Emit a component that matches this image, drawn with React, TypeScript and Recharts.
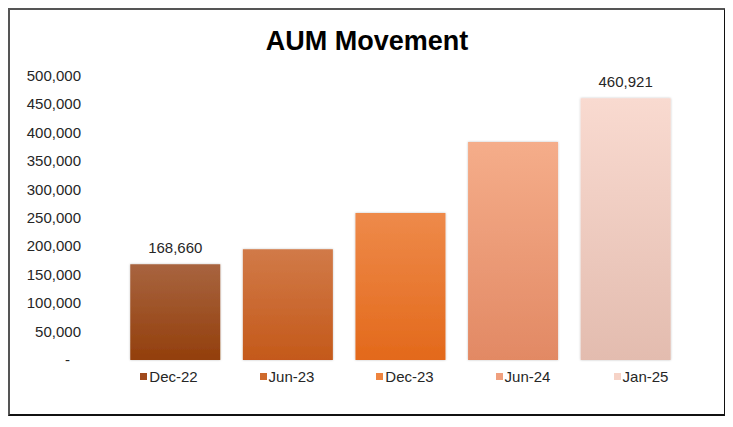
import React from "react";
import { BarChart, Bar, XAxis, YAxis, Cell, LabelList, Legend } from "recharts";

const categories = ["Dec-22", "Jun-23", "Dec-23", "Jun-24", "Jan-25"];
const aumValues = [168660, 195000, 259000, 384000, 460921];
const dataLabels = ["168,660", "", "", "", "460,921"];
const yTicks = [0, 50000, 100000, 150000, 200000, 250000, 300000, 350000, 400000, 450000, 500000];

// gradient top / bottom per bar, plus legend swatch colour
const barTop = ["#a8643f", "#d17a48", "#ee8a4a", "#f5ad8a", "#f9dad0"];
const barBottom = ["#933f0c", "#c4591a", "#e3691b", "#e28964", "#e3bcaf"];
const swatch = ["#a04a1c", "#cf6a2c", "#ef843e", "#f0a07e", "#f6d3c7"];

const data = categories.map((c, i) => ({ name: c, value: aumValues[i], label: dataLabels[i] }));

const font = "'Liberation Sans', Arial, sans-serif";

const YTick = (props: any) => {
  const { x, y, payload } = props;
  const v = payload.value as number;
  return (
    <text
      x={v === 0 ? x - 11 : x}
      y={y}
      dy={5}
      textAnchor="end"
      fontFamily={font}
      fontSize={15}
      fill="#262626"
    >
      {v === 0 ? "-" : v.toLocaleString("en-US")}
    </text>
  );
};

const LegendContent = () => (
  <div style={{ display: "flex", fontFamily: font, fontSize: 15, color: "#262626" }}>
    {categories.map((c, i) => (
      <div
        key={c}
        style={{ width: 118, display: "flex", justifyContent: "center", alignItems: "center" }}
      >
        <span
          style={{ width: 7, height: 7, background: swatch[i], marginRight: 2, display: "inline-block" }}
        />
        <span>{c}</span>
      </div>
    ))}
  </div>
);

export default function App() {
  return (
    <div
      style={{
        position: "relative",
        width: 714,
        height: 404,
        borderTop: "2px solid #555",
        borderLeft: "2px solid #555",
        borderRight: "2px solid #111",
        borderBottom: "2px solid #111",
        background: "#fff",
      }}
    >
      <div
        style={{
          position: "absolute",
          top: 16,
          left: 0,
          width: 714,
          textAlign: "center",
          fontFamily: font,
          fontWeight: "bold",
          fontSize: 27,
          color: "#000",
        }}
      >
        AUM Movement
      </div>
      <BarChart
        width={714}
        height={404}
        data={data}
        margin={{ top: 66, right: 42, bottom: 54, left: 0 }}
        barCategoryGap="10%"
      >
        <defs>
          {categories.map((c, i) => (
            <linearGradient key={c} id={`grad${i}`} x1="0" y1="0" x2="0" y2="1">
              <stop offset="0%" stopColor={barTop[i]} />
              <stop offset="100%" stopColor={barBottom[i]} />
            </linearGradient>
          ))}
          <filter id="shadow" x="-10%" y="-10%" width="120%" height="120%">
            <feDropShadow dx="0" dy="0" stdDeviation="1.2" floodColor="#000" floodOpacity="0.25" />
          </filter>
        </defs>
        <XAxis dataKey="name" hide />
        <YAxis
          width={109}
          domain={[0, 500000]}
          ticks={yTicks}
          axisLine={false}
          tickLine={false}
          tickSize={0}
          tickMargin={38}
          tick={<YTick />}
          interval={0}
        />
        <Legend
          layout="horizontal"
          verticalAlign="middle"
          align="center"
          wrapperStyle={{ top: 358, left: 100, width: 590 }}
          content={<LegendContent />}
        />
        <Bar dataKey="value" isAnimationActive={false} filter="url(#shadow)">
          {data.map((d, i) => (
            <Cell key={d.name} fill={`url(#grad${i})`} />
          ))}
          <LabelList
            dataKey="label"
            position="top"
            offset={11}
            fontFamily={font}
            fontSize={15}
            fill="#262626"
          />
        </Bar>
      </BarChart>
    </div>
  );
}
